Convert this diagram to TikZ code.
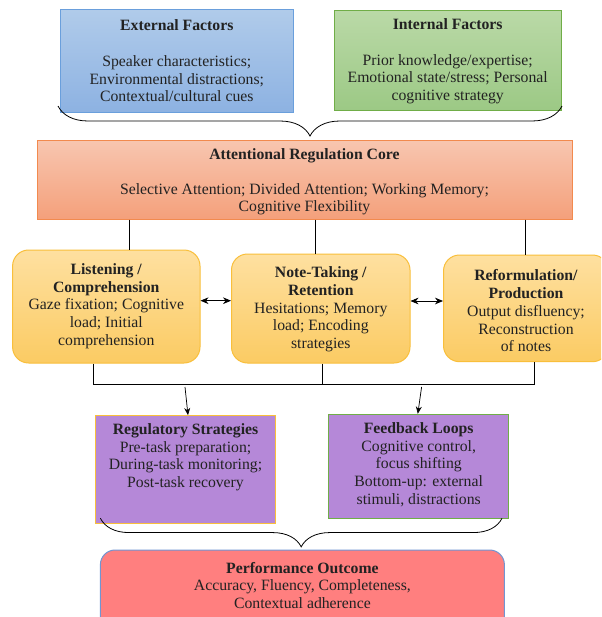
\documentclass[tikz,border=0pt]{standalone}
\usepackage{fontspec}
\setmainfont{Liberation Serif}
\usetikzlibrary{fit,arrows.meta,decorations.pathreplacing}
\definecolor{txtc}{HTML}{222222}
\definecolor{extt}{HTML}{B0CBEA}
\definecolor{extbot}{HTML}{8DB2E2}
\definecolor{extb}{HTML}{6A9FDC}
\definecolor{intt}{HTML}{BAD9A7}
\definecolor{intbot}{HTML}{9CC985}
\definecolor{intb}{HTML}{70AD47}
\definecolor{coret}{HTML}{F8C6B0}
\definecolor{corebot}{HTML}{F4A07B}
\definecolor{coreb}{HTML}{F28A4E}
\definecolor{midt}{HTML}{FEE0A0}
\definecolor{midbot}{HTML}{FBCB63}
\definecolor{midb}{HTML}{F9BF3B}
\definecolor{purp}{HTML}{B588D8}
\definecolor{perf}{HTML}{FF7F7F}
\definecolor{perfb}{HTML}{7195D2}
\begin{document}
\begin{tikzpicture}[x=0.75pt,y=-0.75pt,
  box/.style={draw, line width=0.75pt, inner sep=0pt},
  txt/.style={align=center, font={\fontsize{11.8}{13.3}\selectfont}, text=txtc, inner sep=0pt},
  link/.style={draw=black, line width=0.55pt},
  arr/.style={link, -{Stealth[length=5.5pt,width=4.5pt]}},
  darr/.style={link, {Stealth[length=6pt,width=5pt]}-{Stealth[length=6pt,width=5pt]}},
  brc/.style={decorate, decoration={brace, mirror, amplitude=#1}, draw=black, line width=0.6pt}]
\clip (0,0) rectangle (601,617);
\fill[white] (0,0) rectangle (601,617);

% top boxes
\node[box, fit={(60,10) (293.6,112)}, draw=extb, top color=extt, bottom color=extbot] (ext) {};
\node[txt] (extT) at (176.8,61) {\textbf{External Factors}\\[13.3pt]Speaker characteristics;\\Environmental distractions;\\Contextual/cultural cues};
\node[box, fit={(334,11) (561.5,110)}, draw=intb, top color=intt, bottom color=intbot] (int) {};
\node[txt] (intT) at (447.7,61.5) {\textbf{Internal Factors}\\[13.3pt]Prior knowledge/expertise;\\Emotional state/stress; Personal\\cognitive strategy};

% brace
\coordinate (b1l) at (58,106);
\coordinate (b1r) at (562,106);
\draw[brc=22.5pt] (b1l) -- (b1r);

% core
\node[box, fit={(37,140) (572,219)}, draw=coreb, top color=coret, bottom color=corebot] (core) {};
\node[txt] (coreT) at (304.5,182) {\textbf{Attentional Regulation Core}\\[12.5pt]Selective Attention; Divided Attention; Working Memory;\\Cognitive Flexibility};

% middle row
\node[box, rounded corners=12pt, fit={(12.6,250) (200,363)}, draw=midb, top color=midt, bottom color=midbot] (lis) {};
\node[txt] (lisT) at (106.3,306) {\textbf{Listening /}\\\textbf{Comprehension}\\Gaze fixation; Cognitive\\load; Initial\\comprehension};
\node[box, rounded corners=12pt, fit={(231.5,254) (410,363)}, draw=midb, top color=midt, bottom color=midbot] (note) {};
\node[txt] (noteT) at (320.8,309.5) {\textbf{Note-Taking /}\\\textbf{Retention}\\Hesitations; Memory\\load; Encoding\\strategies};
\node[box, rounded corners=12pt, fit={(443.5,255) (608.5,361.7)}, draw=midb, top color=midt, bottom color=midbot] (ref) {};
\node[txt] (refT) at (526,311) {\textbf{Reformulation/}\\\textbf{Production}\\Output disfluency;\\Reconstruction\\of notes};

% core -> middle
\draw[link] (129,0 |- core.south) -- (129,0 |- lis.north);
\draw[link] (315,0 |- core.south) -- (315,0 |- note.north);
\draw[link] (525,0 |- core.south) -- (525,0 |- ref.north);

% double arrows
\draw[darr] (lis.east |- 0,300.7) -- (note.west |- 0,300.7);
\draw[darr] (note.east |- 0,301) -- (ref.west |- 0,301);

% collector
\coordinate (jL) at (93,384);
\coordinate (jM) at (322.7,384);
\coordinate (jR) at (534.7,384);
\draw[link] (93,0 |- lis.south) -- (jL) -- (jR) -- (534.7,0 |- ref.south);
\draw[link] (322.7,0 |- note.south) -- (jM);

% lower boxes
\node[box, fit={(95.8,415.7) (275.2,523.3)}, draw=midb, fill=purp] (reg) {};
\node[txt] (regT) at (185.5,457.3) {\textbf{Regulatory Strategies}\\Pre-task preparation;\\During-task monitoring;\\Post-task recovery};
\node[box, fit={(328.9,414.3) (508.6,518.3)}, draw=intb, fill=purp] (fb) {};
\node[txt] (fbT) at (418.7,464.7) {\textbf{Feedback Loops}\\Cognitive control,\\focus shifting\\Bottom-up: external\\stimuli, distractions};

% arrows down
\coordinate (a1) at (185,387);
\coordinate (a2) at (421.6,387);
\draw[arr] (a1) -- (188,0 |- reg.north);
\draw[arr] (a2) -- (417.8,0 |- fb.north);

% bottom brace
\coordinate (b2l) at (100.4,518.3);
\coordinate (b2r) at (502,518.3);
\draw[brc=21.4pt] (b2l) -- (b2r);

% performance
\node[box, rounded corners=11pt, fit={(100.4,550) (504.4,632)}, draw=perfb, fill=perf] (perfN) {};
\node[txt] (perfT) at (302.4,585.5) {\textbf{Performance Outcome}\\Accuracy, Fluency, Completeness,\\Contextual adherence};
\end{tikzpicture}
\end{document}
